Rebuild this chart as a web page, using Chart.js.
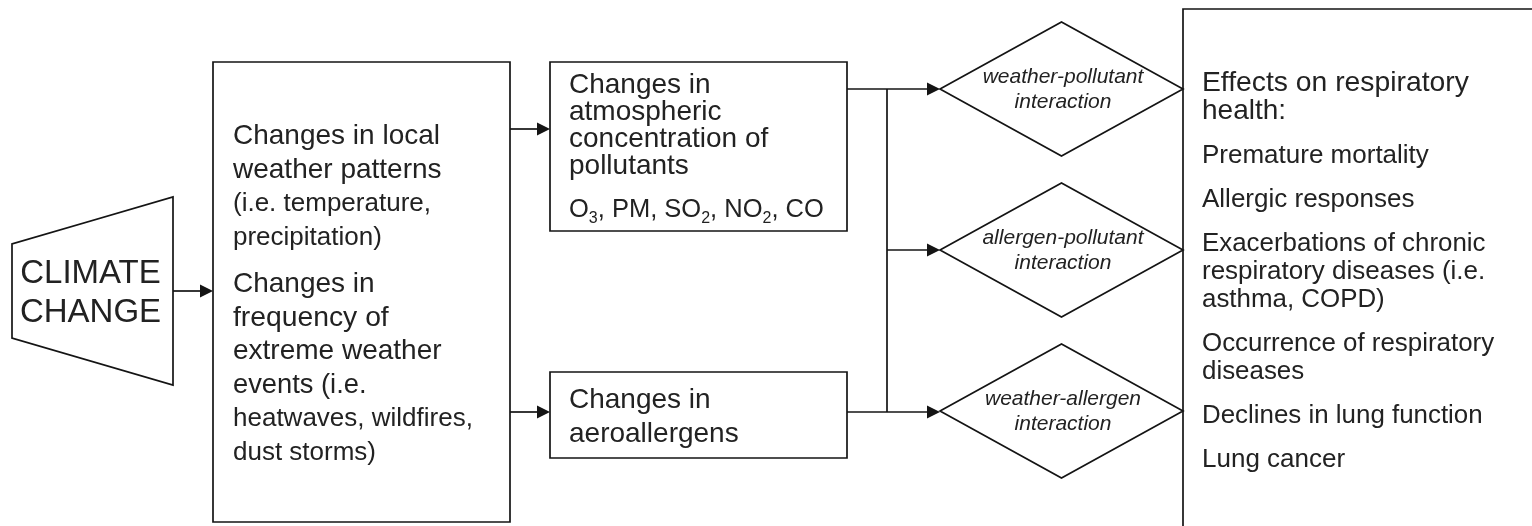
<!DOCTYPE html>
<html>
<head>
<meta charset="utf-8">
<script src="https://cdn.jsdelivr.net/npm/chart.js@4"></script>
<style>
  html, body { margin: 0; padding: 0; background: #ffffff; }
  #wrap { width: 1532px; height: 526px; }
</style>
</head>
<body>
<div id="wrap"><canvas id="c" width="1532" height="526"></canvas></div>
<script>
// ---------- diagram data (diagram units = the 1532 x 526 frame) ----------
const climateLabel = ['CLIMATE', 'CHANGE'];
const weatherParas = [
  ['Changes in local', 'weather patterns', '(i.e. temperature,', 'precipitation)'],
  ['Changes in', 'frequency of', 'extreme weather', 'events (i.e.', 'heatwaves, wildfires,', 'dust storms)']
];
const pollutantParas = [
  ['Changes in', 'atmospheric', 'concentration of', 'pollutants'],
  ['O_3, PM, SO_2, NO_2, CO']
];
const allergenParas = [['Changes in', 'aeroallergens']];
const interactionLabels = [
  ['weather-pollutant', 'interaction'],
  ['allergen-pollutant', 'interaction'],
  ['weather-allergen', 'interaction']
];
const effectParas = [
  ['Effects on respiratory', 'health:'],
  ['Premature mortality'],
  ['Allergic responses'],
  ['Exacerbations of chronic', 'respiratory diseases (i.e.', 'asthma, COPD)'],
  ['Occurrence of respiratory', 'diseases'],
  ['Declines in lung function'],
  ['Lung cancer']
];

// outline geometry
const trapezoidPts = [[12, 244], [173, 197], [173, 385], [12, 338]];
const boxRects = [            // [x1, y1, x2, y2]
  [213, 62, 510, 522],
  [550, 62, 847, 231],
  [550, 372, 847, 458],
  [1183, 9, 1560, 560]
];
const diamondCenters = [[1061.5, 89], [1061.5, 250], [1061.5, 411]];
const diamondHalf = [121.5, 67];
const connectorLines = [      // polylines, arrow at the end when flagged
  { pts: [[173, 291], [213, 291]], arrow: true },
  { pts: [[510, 129], [550, 129]], arrow: true },
  { pts: [[510, 412], [550, 412]], arrow: true },
  { pts: [[847, 89], [940, 89]], arrow: true },
  { pts: [[847, 412], [940, 412]], arrow: true },
  { pts: [[887, 250], [940, 250]], arrow: true },
  { pts: [[887, 89], [887, 412]], arrow: false }
];

// ---------- style ----------
const INK = '#141414';
const TEXT_INK = '#222222';
const FONT = '"Liberation Sans", Arial, Helvetica, sans-serif';
const LW = 1.7;
const ARROW_LEN = 13, ARROW_HALF = 6.5;
// per-line font sizes (px), same shape as the paragraph arrays
const weatherSizes = [[28, 28, 26, 26], [28, 28.3, 28, 27.3, 26, 26]];
const pollutantSizes = [[28, 28, 28, 28], [25.5]];
const allergenSizes = [[28, 28]];
const effectSizes = [[28.3, 28], [26], [26], [25.9, 26, 25.9], [25.9, 25.9], [25.9], [26]];

// ---------- build datasets ----------
function closed(pts) { return pts.concat([pts[0], pts[1]]).map(p => ({ x: p[0], y: p[1] })); }
const datasets = [];
function addPoly(data) {
  datasets.push({
    data, showLine: true, borderColor: INK, borderWidth: LW, pointRadius: 0,
    pointHoverRadius: 0, tension: 0, fill: false, borderJoinStyle: 'miter', clip: 0
  });
}
addPoly(closed(trapezoidPts));
boxRects.forEach(r => addPoly(closed([[r[0], r[1]], [r[2], r[1]], [r[2], r[3]], [r[0], r[3]]])));
diamondCenters.forEach(c => addPoly(closed([
  [c[0] - diamondHalf[0], c[1]], [c[0], c[1] - diamondHalf[1]],
  [c[0] + diamondHalf[0], c[1]], [c[0], c[1] + diamondHalf[1]]
])));
connectorLines.forEach(l => {
  const pts = l.pts.map(p => [p[0], p[1]]);
  if (l.arrow) {
    const a = pts[pts.length - 2], b = pts[pts.length - 1];
    const dx = b[0] - a[0], dy = b[1] - a[1], len = Math.hypot(dx, dy);
    pts[pts.length - 1] = [b[0] - dx / len * (ARROW_LEN - 1), b[1] - dy / len * (ARROW_LEN - 1)];
  }
  addPoly(pts.map(p => ({ x: p[0], y: p[1] })));
});

// ---------- text layout ----------
const textBlocks = [
  { paras: climateLabel.map(s => [s]), sizes: [[33], [33]], x: 90.5, y: 283, lh: 39, gap: 0, align: 'center' },
  { paras: weatherParas, sizes: weatherSizes, x: 233, y: 144, lh: 33.5, gap: 14, align: 'left' },
  { paras: pollutantParas, sizes: pollutantSizes, x: 569, y: 93, lh: 27, gap: 16, align: 'left' },
  { paras: allergenParas, sizes: allergenSizes, x: 569, y: 408, lh: 34, gap: 0, align: 'left' },
  { paras: effectParas, sizes: effectSizes, x: 1202, y: 91, lh: 28, gap: 16, align: 'left' }
];
interactionLabels.forEach((lab, i) => {
  textBlocks.push({ paras: [lab], sizes: [[21, 21]], x: diamondCenters[i][0] + 1.5, y: diamondCenters[i][1] - 6,
    lh: 25, gap: 0, align: 'center', italic: true });
});

function drawRich(ctx, str, x, y, size, italic) {
  // "_d" => subscript digit
  const parts = [];
  for (let i = 0; i < str.length; i++) {
    if (str[i] === '_' && i + 1 < str.length) { parts.push({ t: str[i + 1], sub: true }); i++; }
    else {
      if (parts.length && !parts[parts.length - 1].sub) parts[parts.length - 1].t += str[i];
      else parts.push({ t: str[i], sub: false });
    }
  }
  let cx = x;
  parts.forEach(p => {
    const sz = p.sub ? Math.round(size * 0.64) : size;
    ctx.font = (italic ? 'italic ' : '') + sz + 'px ' + FONT;
    ctx.fillText(p.t, cx, p.sub ? y + 6 : y);
    cx += ctx.measureText(p.t).width;
  });
}

const diagramPlugin = {
  id: 'diagram',
  afterDatasetsDraw(chart) {
    const ctx = chart.ctx, xs = chart.scales.x, ys = chart.scales.y;
    ctx.save();
    // arrowheads
    ctx.fillStyle = INK;
    connectorLines.filter(l => l.arrow).forEach(l => {
      const a = l.pts[l.pts.length - 2], b = l.pts[l.pts.length - 1];
      const bx = xs.getPixelForValue(b[0]), by = ys.getPixelForValue(b[1]);
      const ax = xs.getPixelForValue(a[0]), ay = ys.getPixelForValue(a[1]);
      const ang = Math.atan2(by - ay, bx - ax);
      ctx.save();
      ctx.translate(bx, by);
      ctx.rotate(ang);
      ctx.beginPath();
      ctx.moveTo(0, 0);
      ctx.lineTo(-ARROW_LEN, -ARROW_HALF);
      ctx.lineTo(-ARROW_LEN, ARROW_HALF);
      ctx.closePath();
      ctx.fill();
      ctx.restore();
    });
    // text
    ctx.fillStyle = TEXT_INK;
    ctx.textBaseline = 'alphabetic';
    textBlocks.forEach(b => {
      let y = b.y;
      b.paras.forEach((para, pi) => {
        para.forEach((line, li) => {
          const size = b.sizes[pi][li];
          const px = xs.getPixelForValue(b.x), py = ys.getPixelForValue(y);
          if (line.indexOf('_') >= 0) {
            ctx.textAlign = 'left';
            drawRich(ctx, line, px, py, size, b.italic);
          } else {
            ctx.font = (b.italic ? 'italic ' : '') + size + 'px ' + FONT;
            ctx.textAlign = b.align;
            ctx.fillText(line, px, py);
          }
          y += b.lh;
        });
        y += b.gap;
      });
    });
    ctx.restore();
  }
};

new Chart(document.getElementById('c'), {
  type: 'scatter',
  data: { datasets },
  options: {
    responsive: false,
    animation: false,
    events: [],
    layout: { padding: 0 },
    plugins: { legend: { display: false }, tooltip: { enabled: false } },
    scales: {
      x: { type: 'linear', min: 0, max: 1532, display: false },
      y: { type: 'linear', min: 0, max: 526, reverse: true, display: false }
    }
  },
  plugins: [diagramPlugin]
});
</script>
</body>
</html>
